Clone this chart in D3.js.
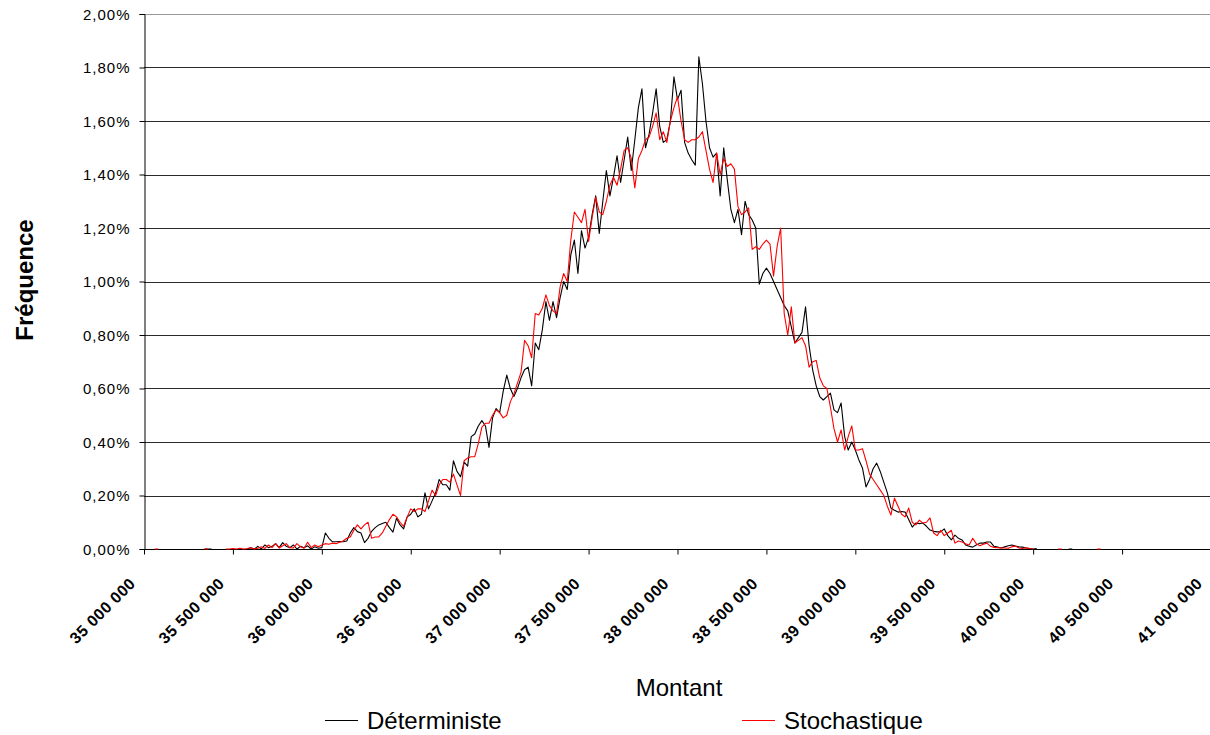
<!DOCTYPE html>
<html lang="fr">
<head>
<meta charset="UTF-8">
<title>Fréquence par montant</title>
<script src="https://d3js.org/d3.v7.min.js"></script>
<style>
    body { margin: 0; background: #fff; }
    svg { display: block; }
    .ylab { font-family: "Liberation Sans", Arial, sans-serif; font-size: 15px; letter-spacing: 1px; fill: #000; }
    .xlab { font-family: "Liberation Sans", Arial, sans-serif; font-size: 16px; font-weight: bold; letter-spacing: 0.5px; fill: #000; }
    .titre { font-family: "Liberation Sans", Arial, sans-serif; font-size: 24px; fill: #000; }
</style>
</head>
<body>
<script>
// Montants (classes de 20 000)
const montants = [
    35000000,35020000,35040000,35060000,35080000,35100000,35120000,35140000,35160000,35180000,
    35200000,35220000,35240000,35260000,35280000,35300000,35320000,35340000,35360000,35380000,
    35400000,35420000,35440000,35460000,35480000,35500000,35520000,35540000,35560000,35580000,
    35600000,35620000,35640000,35660000,35680000,35700000,35720000,35740000,35760000,35780000,
    35800000,35820000,35840000,35860000,35880000,35900000,35920000,35940000,35960000,35980000,
    36000000,36020000,36040000,36060000,36080000,36100000,36120000,36140000,36160000,36180000,
    36200000,36220000,36240000,36260000,36280000,36300000,36320000,36340000,36360000,36380000,
    36400000,36420000,36440000,36460000,36480000,36500000,36520000,36540000,36560000,36580000,
    36600000,36620000,36640000,36660000,36680000,36700000,36720000,36740000,36760000,36780000,
    36800000,36820000,36840000,36860000,36880000,36900000,36920000,36940000,36960000,36980000,
    37000000,37020000,37040000,37060000,37080000,37100000,37120000,37140000,37160000,37180000,
    37200000,37220000,37240000,37260000,37280000,37300000,37320000,37340000,37360000,37380000,
    37400000,37420000,37440000,37460000,37480000,37500000,37520000,37540000,37560000,37580000,
    37600000,37620000,37640000,37660000,37680000,37700000,37720000,37740000,37760000,37780000,
    37800000,37820000,37840000,37860000,37880000,37900000,37920000,37940000,37960000,37980000,
    38000000,38020000,38040000,38060000,38080000,38100000,38120000,38140000,38160000,38180000,
    38200000,38220000,38240000,38260000,38280000,38300000,38320000,38340000,38360000,38380000,
    38400000,38420000,38440000,38460000,38480000,38500000,38520000,38540000,38560000,38580000,
    38600000,38620000,38640000,38660000,38680000,38700000,38720000,38740000,38760000,38780000,
    38800000,38820000,38840000,38860000,38880000,38900000,38920000,38940000,38960000,38980000,
    39000000,39020000,39040000,39060000,39080000,39100000,39120000,39140000,39160000,39180000,
    39200000,39220000,39240000,39260000,39280000,39300000,39320000,39340000,39360000,39380000,
    39400000,39420000,39440000,39460000,39480000,39500000,39520000,39540000,39560000,39580000,
    39600000,39620000,39640000,39660000,39680000,39700000,39720000,39740000,39760000,39780000,
    39800000,39820000,39840000,39860000,39880000,39900000,39920000,39940000,39960000,39980000,
    40000000,40020000,40040000,40060000,40080000,40100000,40120000,40140000,40160000,40180000,
    40200000,40220000,40240000,40260000,40280000,40300000,40320000,40340000,40360000,40380000,
    40400000
];

// Fréquences en % (null = pas de valeur)
const deterministe = [
    null,null,null,null,null,null,null,null,null,null,
    null,null,null,null,null,null,null,0,0,0,
    null,null,null,null,null,null,null,null,null,0,
    0.005,0,0.01,0,0.015,0.005,0.01,0.02,0.005,0.024,
    0.01,0.005,0.015,0,0.01,0.005,0.012,0,0.008,0.003,
    0.005,0.06,0.04,0.027,0.027,0.028,0.027,0.03,0.06,0.08,
    0.065,0.06,0.024,0.04,0.066,0.08,0.09,0.095,0.1,0.08,
    0.063,0.115,0.09,0.075,0.12,0.13,0.15,0.12,0.13,0.21,
    0.15,0.18,0.21,0.26,0.24,0.24,0.22,0.33,0.29,0.27,
    0.325,0.31,0.42,0.43,0.46,0.48,0.46,0.38,0.49,0.525,
    0.51,0.59,0.65,0.6,0.57,0.6,0.64,0.67,0.68,0.61,
    0.77,0.745,0.82,0.925,0.855,0.925,0.865,0.94,1.0,0.97,
    1.1,1.155,1.03,1.19,1.125,1.165,1.25,1.32,1.18,1.3,
    1.415,1.32,1.39,1.47,1.37,1.455,1.54,1.415,1.53,1.65,
    1.72,1.5,1.55,1.63,1.72,1.58,1.52,1.53,1.6,1.765,
    1.68,1.715,1.52,1.48,1.455,1.435,1.84,1.74,1.6,1.5,
    1.465,1.48,1.32,1.5,1.38,1.27,1.22,1.27,1.175,1.3,
    1.25,1.23,1.2,0.99,1.03,1.05,1.03,1.0,0.97,0.94,
    0.91,0.89,0.83,0.77,0.79,0.81,0.905,0.76,0.67,0.61,
    0.57,0.557,0.57,0.583,0.52,0.51,0.546,0.42,0.37,0.4,
    0.37,0.333,0.303,0.232,0.26,0.3,0.321,0.29,0.25,0.21,
    0.153,0.145,0.138,0.14,0.138,0.11,0.082,0.097,0.095,0.097,
    0.085,0.071,0.066,0.064,0.064,0.075,0.05,0.034,0.052,0.04,
    0.034,0.015,0.01,0.007,0.015,0.022,0.022,0.026,0.026,0.01,
    0.007,0.004,0.008,0.012,0.015,0.011,0.008,0.007,0.004,0.002,
    0,0.002,null,null,null,null,null,null,null,null,
    0,0,null,null,null,null,null,null,null,null,
    null
];

const stochastique = [
    null,null,null,0,0,null,null,null,null,null,
    null,null,null,null,null,null,null,0,0,null,
    null,null,null,0,0,0.002,0,0.003,0,0.002,
    0.005,0,0.003,0.008,0.002,0.015,0.005,0.02,0.004,0.012,
    0.02,0.005,0.004,0.02,0.008,0.003,0.025,0.005,0.015,0.008,
    0.015,0.02,0.018,0.022,0.02,0.025,0.03,0.04,0.045,0.07,
    0.09,0.075,0.09,0.1,0.04,0.045,0.045,0.06,0.085,0.11,
    0.13,0.12,0.1,0.085,0.12,0.15,0.14,0.15,0.15,0.14,
    0.18,0.22,0.2,0.24,0.26,0.26,0.25,0.28,0.24,0.2,
    0.33,0.34,0.345,0.345,0.395,0.456,0.47,0.47,0.5,0.52,
    0.51,0.49,0.5,0.55,0.58,0.62,0.66,0.78,0.76,0.715,
    0.88,0.875,0.9,0.95,0.91,0.89,0.88,0.98,1.03,1.0,
    1.155,1.26,1.24,1.22,1.27,1.15,1.24,1.315,1.26,1.25,
    1.3,1.36,1.39,1.36,1.42,1.49,1.5,1.46,1.35,1.46,
    1.49,1.53,1.54,1.58,1.63,1.53,1.56,1.52,1.6,1.65,
    1.69,1.6,1.53,1.52,1.53,1.53,1.54,1.56,1.49,1.42,
    1.37,1.48,1.4,1.46,1.43,1.44,1.42,1.28,1.25,1.26,
    1.275,1.12,1.13,1.12,1.14,1.155,1.14,1.02,1.13,1.2,
    0.88,0.8,0.905,0.77,0.78,0.79,0.76,0.68,0.7,0.705,
    0.64,0.61,0.6,0.53,0.45,0.4,0.445,0.37,0.42,0.46,
    0.37,0.37,0.375,0.33,0.28,0.26,0.24,0.22,0.2,0.16,
    0.127,0.19,0.16,0.13,0.12,0.153,0.1,0.09,0.108,0.097,
    0.1,0.116,0.06,0.05,0.07,0.05,0.06,0.07,0.022,0.03,
    0.026,0.02,0.015,0.04,0.02,0.012,0.018,0.022,0.01,0.006,
    0.005,0.004,0.004,0.003,0.008,0.011,0.004,0.002,0.005,0.002,
    0,null,null,null,null,null,null,0,0,null,
    null,null,null,null,null,null,null,null,0,0,
    null
];

// Graduations
const xTicks = [35000000,35500000,36000000,36500000,37000000,37500000,38000000,38500000,39000000,39500000,40000000,40500000,41000000];
const xTickLabels = ["35 000 000","35 500 000","36 000 000","36 500 000","37 000 000","37 500 000","38 000 000","38 500 000","39 000 000","39 500 000","40 000 000","40 500 000","41 000 000"];
const yTicks = [0,0.2,0.4,0.6,0.8,1.0,1.2,1.4,1.6,1.8,2.0];
const yTickLabels = ["0,00%","0,20%","0,40%","0,60%","0,80%","1,00%","1,20%","1,40%","1,60%","1,80%","2,00%"];

const seriesNames = ["Déterministe", "Stochastique"];
const seriesColors = ["#000000", "#ff0000"];

const width = 1210, height = 735;
const plot = { left: 144, right: 1211, top: 14, bottom: 549 };

const svg = d3.select("body").append("svg")
    .attr("width", width)
    .attr("height", height);

const x = d3.scaleLinear().domain([35000000, 41000000]).range([plot.left, plot.right]);
const y = d3.scaleLinear().domain([0, 2]).range([plot.bottom, plot.top]);

// lignes de quadrillage
svg.append("g")
    .selectAll("line")
    .data(yTicks.filter(d => d > 0))
    .enter()
    .append("line")
    .attr("x1", plot.left)
    .attr("x2", width)
    .attr("y1", d => Math.round(y(d)) + 0.5)
    .attr("y2", d => Math.round(y(d)) + 0.5)
    .attr("stroke", d => d === 2 ? "#9a9a9a" : "#2a2a2a")
    .attr("stroke-width", 1);

// axe Y
const yAxis = d3.axisLeft(y)
    .tickValues(yTicks)
    .tickFormat((d, i) => yTickLabels[i])
    .tickSize(5)
    .tickPadding(9);

const gy = svg.append("g")
    .attr("transform", `translate(${plot.left + 0.5},0)`)
    .call(yAxis);
gy.select(".domain").attr("stroke", "#000");
gy.selectAll(".tick line").attr("stroke", "#000");
gy.selectAll(".tick text").attr("class", "ylab").attr("font-size", null).attr("font-family", null).attr("dy", "0.36em");

// axe X
const xAxis = d3.axisBottom(x)
    .tickValues(xTicks)
    .tickFormat((d, i) => xTickLabels[i])
    .tickSizeOuter(0)
    .tickSize(5);

const gx = svg.append("g")
    .attr("transform", `translate(0,${plot.bottom + 0.5})`)
    .call(xAxis);
gx.select(".domain").attr("stroke", "#000").attr("d", `M${plot.left},0H${width}`);
gx.selectAll(".tick line").attr("stroke", "#000");
gx.selectAll(".tick text")
    .attr("class", "xlab")
    .attr("font-size", null)
    .attr("font-family", null)
    .attr("text-anchor", "end")
    .attr("dy", null)
    .attr("y", 0)
    .attr("transform", "translate(-8,35) rotate(-45)");

// courbes
const line = d3.line()
    .defined(d => d.v !== null)
    .x(d => x(d.m))
    .y(d => y(d.v));

const series = [deterministe, stochastique];
series.forEach((vals, s) => {
    const pts = montants.map((m, i) => ({ m: m, v: vals[i] }));
    svg.append("path")
        .datum(pts)
        .attr("fill", "none")
        .attr("stroke", seriesColors[s])
        .attr("stroke-width", 1.1)
        .attr("stroke-linejoin", "round")
        .attr("d", line);
});

// titres d'axes
svg.append("text")
    .attr("class", "titre")
    .attr("font-weight", "bold")
    .attr("text-anchor", "middle")
    .attr("transform", "translate(33,280) rotate(-90)")
    .text("Fréquence");

svg.append("text")
    .attr("class", "titre")
    .attr("text-anchor", "middle")
    .attr("x", 679)
    .attr("y", 696)
    .text("Montant");

// légende
const legendX = [325, 742];
seriesNames.forEach((name, i) => {
    svg.append("line")
        .attr("x1", legendX[i])
        .attr("x2", legendX[i] + 33)
        .attr("y1", 720.5)
        .attr("y2", 720.5)
        .attr("stroke", seriesColors[i])
        .attr("stroke-width", 1);
    svg.append("text")
        .attr("class", "titre")
        .attr("x", legendX[i] + 42)
        .attr("y", 729)
        .text(name);
});
</script>
</body>
</html>
